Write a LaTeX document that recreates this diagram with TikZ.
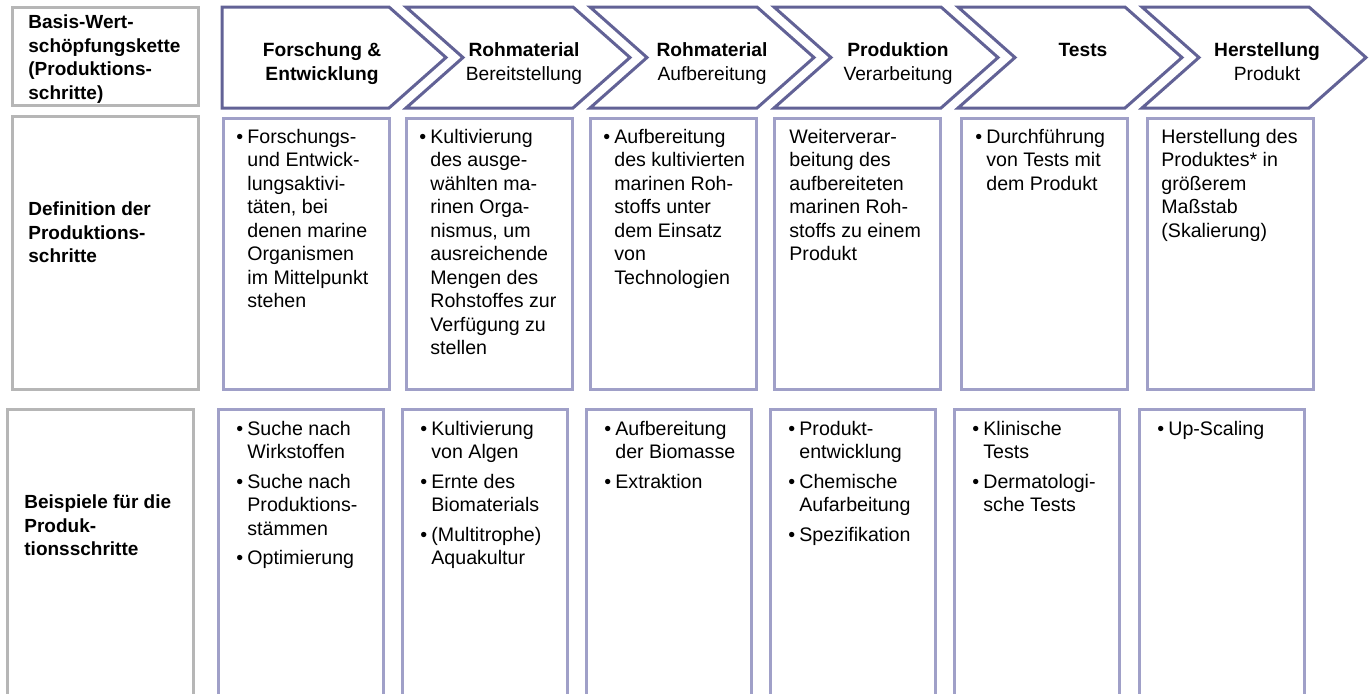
\documentclass[tikz,border=0pt]{standalone}
\usepackage{fontspec}
\setmainfont{Liberation Sans}
\usetikzlibrary{positioning}

\definecolor{chevron}{RGB}{98,98,150}
\definecolor{lila}{RGB}{160,160,200}
\definecolor{grau}{RGB}{182,182,182}

\newcommand{\bl}{\makebox[5.5pt][l]{\textbullet}}
\newcommand{\ein}{\hspace*{5.5pt}}

\begin{document}
\begin{tikzpicture}[x=0.5pt, y=-0.5pt,
    txt/.style={inner sep=0, align=left, font=\fontsize{9.8}{11.75}\selectfont},
    fett/.style={inner sep=0, align=left, font=\fontsize{9.5}{11.75}\selectfont\bfseries},
    kopf/.style={inner sep=0, align=center, anchor=north, font=\fontsize{9.6}{11.75}\selectfont},
    pfeil/.style={draw=chevron, line width=1.5pt},
    rand/.style={draw=lila, line width=1.5pt},
    feld/.style={rand, inner sep=0, anchor=north west, minimum width=83pt, minimum height=135.5pt},
    offen/.style={inner sep=0, anchor=north west, minimum width=82.5pt, minimum height=142pt},
    grauzelle/.style={draw=grau, line width=1.5pt, inner sep=0, anchor=north west, minimum width=93pt}]

    \useasboundingbox (0,0) rectangle (1371,693);

    \node [grauzelle, minimum height=49pt] (g1) at (11,6) {};
    \node [grauzelle, minimum height=136.5pt] (g2) at (11,115) {};
    \node [offen, minimum width=93pt] (g3) at (7,409) {};
    \draw [draw=grau, line width=1.5pt] (g3.south west) |- (g3.north east) -- (g3.south east);

    \node [fett, below right=4.25pt and 8.5pt of g1.north west] (tg1) {Basis-Wert-\\schöpfungskette\\(Produktions-\\schritte)};
    \node [fett, below right=43.25pt and 8.5pt of g2.north west] (tg2) {Definition der\\Produktions-\\schritte};
    \node [fett, below right=42.75pt and 8.5pt of g3.north west] (tg3) {Beispiele für die\\Produk-\\tionsschritte};

    \draw [pfeil] (222,7) -- (389,7) -- (446,57.5) -- (389,108) -- (222,108) -- cycle;
    \draw [pfeil] (406,7) -- ++(167,0) -- ++(57,50.5) -- ++(-57,50.5) -- ++(-167,0) -- ++(57,-50.5) -- cycle;
    \draw [pfeil] (590,7) -- ++(167,0) -- ++(57,50.5) -- ++(-57,50.5) -- ++(-167,0) -- ++(57,-50.5) -- cycle;
    \draw [pfeil] (774,7) -- ++(167,0) -- ++(57,50.5) -- ++(-57,50.5) -- ++(-167,0) -- ++(57,-50.5) -- cycle;
    \draw [pfeil] (958,7) -- ++(167,0) -- ++(57,50.5) -- ++(-57,50.5) -- ++(-167,0) -- ++(57,-50.5) -- cycle;
    \draw [pfeil] (1142,7) -- ++(167,0) -- ++(57,50.5) -- ++(-57,50.5) -- ++(-167,0) -- ++(57,-50.5) -- cycle;

    \node [kopf] (k1) at (322,42.5) {\textbf{Forschung \&}\\\textbf{Entwicklung}};
    \node [kopf] (k2) at (524,42.5) {\textbf{Rohmaterial}\\Bereitstellung};
    \node [kopf] (k3) at (712,42.5) {\textbf{Rohmaterial}\\Aufbereitung};
    \node [kopf] (k4) at (898,42.5) {\textbf{Produktion}\\Verarbeitung};
    \node [kopf] (k5) at (1083,42.5) {\textbf{Tests}};
    \node [kopf] (k6) at (1267,42.5) {\textbf{Herstellung}\\Produkt};

    \node [feld] (d1) at (222,117) {};
    \node [feld] (d2) at (405,117) {};
    \node [feld] (d3) at (589,117) {};
    \node [feld] (d4) at (773,117) {};
    \node [feld] (d5) at (960,117) {};
    \node [feld] (d6) at (1146,117) {};

    \node [txt, below right=5.75pt and 7pt of d1.north west] (td1) {\bl Forschungs-\\\ein und Entwick-\\\ein lungsaktivi-\\\ein täten, bei\\\ein denen marine\\\ein Organismen\\\ein im Mittelpunkt\\\ein stehen};
    \node [txt, below right=5.75pt and 7pt of d2.north west] (td2) {\bl Kultivierung\\\ein des ausge-\\\ein wählten ma-\\\ein rinen Orga-\\\ein nismus, um\\\ein ausreichende\\\ein Mengen des\\\ein Rohstoffes zur\\\ein Verfügung zu\\\ein stellen};
    \node [txt, below right=5.75pt and 7pt of d3.north west] (td3) {\bl Aufbereitung\\\ein des kultivierten\\\ein marinen Roh-\\\ein stoffs unter\\\ein dem Einsatz\\\ein von\\\ein Technologien};
    \node [txt, below right=5.75pt and 8pt of d4.north west] (td4) {Weiterverar-\\beitung des\\aufbereiteten\\marinen Roh-\\stoffs zu einem\\Produkt};
    \node [txt, below right=5.75pt and 7.5pt of d5.north west] (td5) {\bl Durchführung\\\ein von Tests mit\\\ein dem Produkt};
    \node [txt, below right=5.75pt and 7.5pt of d6.north west] (td6) {Herstellung des\\Produktes* in\\größerem\\Maßstab\\(Skalierung)};

    \node [offen] (e1) at (218,409) {};
    \node [offen] (e2) at (402,409) {};
    \node [offen] (e3) at (586,409) {};
    \node [offen] (e4) at (770,409) {};
    \node [offen] (e5) at (954,409) {};
    \node [offen] (e6) at (1139,409) {};
    \draw [rand] (e1.south west) |- (e1.north east) -- (e1.south east);
    \draw [rand] (e2.south west) |- (e2.north east) -- (e2.south east);
    \draw [rand] (e3.south west) |- (e3.north east) -- (e3.south east);
    \draw [rand] (e4.south west) |- (e4.north east) -- (e4.south east);
    \draw [rand] (e5.south west) |- (e5.north east) -- (e5.south east);
    \draw [rand] (e6.south west) |- (e6.north east) -- (e6.south east);

    \node [txt, below right=5.75pt and 9pt of e1.north west] (te1) {\bl Suche nach\\\ein Wirkstoffen\\[3pt]\bl Suche nach\\\ein Produktions-\\\ein stämmen\\[3pt]\bl Optimierung};
    \node [txt, below right=5.75pt and 9pt of e2.north west] (te2) {\bl Kultivierung\\\ein von Algen\\[3pt]\bl Ernte des\\\ein Biomaterials\\[3pt]\bl (Multitrophe)\\\ein Aquakultur};
    \node [txt, below right=5.75pt and 9pt of e3.north west] (te3) {\bl Aufbereitung\\\ein der Biomasse\\[3pt]\bl Extraktion};
    \node [txt, below right=5.75pt and 9pt of e4.north west] (te4) {\bl Produkt-\\\ein entwicklung\\[3pt]\bl Chemische\\\ein Aufarbeitung\\[3pt]\bl Spezifikation};
    \node [txt, below right=5.75pt and 9pt of e5.north west] (te5) {\bl Klinische\\\ein Tests\\[3pt]\bl Dermatologi-\\\ein sche Tests};
    \node [txt, below right=5.75pt and 9pt of e6.north west] (te6) {\bl Up-Scaling};

\end{tikzpicture}
\end{document}
